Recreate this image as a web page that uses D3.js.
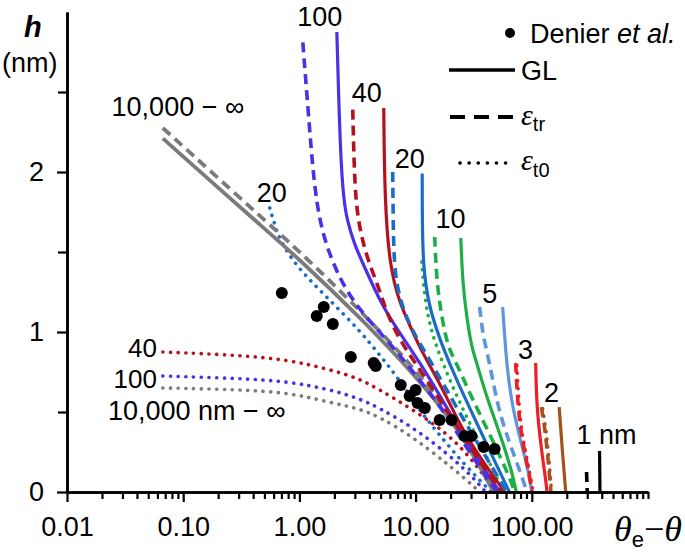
<!DOCTYPE html>
<html><head><meta charset="utf-8">
<script src="https://cdn.jsdelivr.net/npm/d3@7"></script>
<style>body{margin:0;background:#fff}svg{display:block}</style>
</head><body><svg id="chart" width="685" height="560"></svg>
<script>
// ---------- tick labels ----------
const xTickValues = [0.01, 0.1, 1, 10, 100];
const xTickLabels = ["0.01", "0.10", "1.00", "10.00", "100.00"];
const yTickValues = [0, 1, 2];
const yTickLabels = ["0", "1", "2"];
const yMinorValues = [0.5, 1.5, 2.5];

// ---------- Denier et al. data ----------
const denierX = [0.706, 1.62, 1.41, 1.94, 2.77, 4.36, 4.54, 7.45, 8.89, 10.0, 10.4, 12.0, 16.1, 20.4, 26.4, 30.3, 38.5, 47.9];
const denierH = [1.244, 1.156, 1.10, 1.05, 0.844, 0.806, 0.788, 0.669, 0.60, 0.638, 0.556, 0.525, 0.45, 0.45, 0.35, 0.35, 0.281, 0.269];

// ---------- model curves: [theta_e - theta, h] ----------
// 10,000 nm - infinity
const gray_GL  = [[0.0668,2.21],[0.457,1.67],[0.95,1.47],[3.51,1.075],[10.2,0.72],[23.9,0.39],[47,0]];
const gray_tr  = [[0.0668,2.275],[0.457,1.725],[0.95,1.52],[3.51,1.12],[10.2,0.76],[23.9,0.41],[48.9,0]];
const gray_t0  = [[0.0668,0.65],[0.308,0.64],[0.826,0.62],[1.82,0.56],[3.12,0.525],[4.91,0.47],[9.44,0.345],[18.5,0.18],[27.5,0.075],[35.6,0]];
// 100 nm
const n100_GL  = [[2.10,2.875],[2.22,2.245],[2.36,1.87],[2.56,1.70],[2.99,1.544],[3.51,1.43],[5.21,1.156],[7.30,0.994],[10.8,0.8125],[16.1,0.606],[23.9,0.388],[35.6,0.1875],[52.9,0]];
const n100_tr  = [[1.07,2.81],[1.23,2.245],[1.36,1.87],[1.59,1.595],[2.22,1.325],[3.30,1.1375],[4.91,1.0],[7.30,0.856],[10.8,0.70],[16.1,0.544],[23.9,0.344],[35.6,0.156],[49.8,0]];
const n100_t0  = [[0.0668,0.725],[0.308,0.71],[0.826,0.69],[1.82,0.64],[3.12,0.59],[4.91,0.525],[9.44,0.405],[18.5,0.245],[31,0.095],[40,0]];
// 40 nm
const n40_GL   = [[5.32,2.40],[5.42,1.825],[5.98,1.406],[7.30,1.18],[8.89,1.044],[10.8,0.906],[13.2,0.794],[18.5,0.594],[25.4,0.3875],[35.6,0.219],[58.4,0]];
const n40_tr   = [[2.88,2.39],[2.99,1.87],[3.30,1.64],[3.87,1.45],[4.91,1.2625],[5.64,1.119],[7.30,0.95],[10.2,0.794],[15.2,0.606],[23.9,0.3875],[35.6,0.1875],[55,0]];
const n40_t0   = [[0.0668,0.875],[0.308,0.855],[0.826,0.825],[1.82,0.765],[3.12,0.715],[4.91,0.64],[9.44,0.515],[18.5,0.37],[29.2,0.22],[43.4,0.055],[47,0]];
// 20 nm
const n20_GL   = [[11.4,1.99],[11.4,1.825],[11.5,1.406],[13.2,1.1375],[17.1,0.906],[22.5,0.70],[33.6,0.431],[46,0.219],[64.2,0]];
const n20_tr   = [[6.35,2.0],[6.40,1.80],[6.48,1.406],[7.30,1.20],[8.89,1.044],[10.8,0.931],[14.0,0.794],[18.5,0.6375],[29.2,0.3875],[43.5,0.181],[60.7,0]];
const n20_t0   = [[0.556,1.775],[0.614,1.67],[0.678,1.575],[0.95,1.405],[1.82,1.2],[3.30,1.01],[4.91,0.856],[7.30,0.70],[10.8,0.51],[16.1,0.356],[26.4,0.169],[45,0]];
// 10 nm
const n10_GL   = [[24.5,1.5875],[25.4,1.306],[27.5,1.094],[30.3,0.906],[33.6,0.806],[40.8,0.594],[52.9,0.369],[67,0.1375],[73.5,0]];
const n10_tr   = [[14.6,1.594],[15.2,1.306],[16.8,1.094],[18.9,0.906],[22.5,0.806],[31.0,0.575],[46,0.325],[64.2,0.094],[71.5,0]];
const n10_t0   = [[11.3,1.4375],[12.0,1.20],[13.7,0.994],[17.1,0.806],[23.9,0.556],[35.6,0.306],[49.8,0.094],[57,0]];
// 5 nm
const n5_GL    = [[56.1,1.156],[58.4,0.98],[60.7,0.806],[67,0.556],[78.5,0.344],[92,0.156],[100,0]];
const n5_tr    = [[35.6,1.156],[37.8,0.981],[43.5,0.806],[50.8,0.531],[64.2,0.306],[78.5,0.1375],[91,0]];
// 3 nm
const n3_GL    = [[108,0.806],[110,0.531],[121,0.2625],[133,0.056],[135,0]];
const n3_tr    = [[72.6,0.806],[75.9,0.531],[82.5,0.325],[94.7,0.119],[100.5,0]];
const n3_t0    = [[74.5,0.79],[77.5,0.52],[84,0.32],[96.5,0.115],[102.5,0]];
// 2 nm
const n2_GL    = [[172,0.531],[182,0.281],[196,0]];
const n2_tr    = [[121,0.531],[133,0.344],[146,0]];
const n2_t0    = [[124,0.52],[136,0.34],[148,0]];
// 1 nm
const n1_GL    = [[383,0.256],[386,0]];
const n1_tr    = [[296,0.125],[300,0]];

// ---------- series styling ----------
const C = {gray:"#7b7b7b", violet:"#4b30e6", darkred:"#b3121c", blue:"#1a6cc4",
           green:"#1fae45", lblue:"#5d96de", red:"#ee1d26", brown:"#a3521d", black:"#000"};
const series = [
  {d:gray_t0,c:C.gray,s:"dot"},{d:n100_t0,c:C.violet,s:"dot"},{d:n40_t0,c:C.darkred,s:"dot"},
  {d:n20_t0,c:C.blue,s:"dot"},{d:n10_t0,c:C.green,s:"dot"},
  {d:gray_tr,c:C.gray,s:"dash",w:3.8},{d:gray_GL,c:C.gray,s:"solid",w:3.8},
  {d:n100_tr,c:C.violet,s:"dash"},{d:n100_GL,c:C.violet,s:"solid"},
  {d:n40_tr,c:C.darkred,s:"dash"},{d:n40_GL,c:C.darkred,s:"solid"},
  {d:n20_tr,c:C.blue,s:"dash"},{d:n20_GL,c:C.blue,s:"solid"},
  {d:n10_tr,c:C.green,s:"dash"},{d:n10_GL,c:C.green,s:"solid"},
  {d:n5_tr,c:C.lblue,s:"dash"},{d:n5_GL,c:C.lblue,s:"solid"},
  {d:n3_t0,c:C.red,s:"dot"},{d:n3_tr,c:C.red,s:"dash"},{d:n3_GL,c:C.red,s:"solid"},
  {d:n2_t0,c:C.brown,s:"dot"},{d:n2_tr,c:C.brown,s:"dash"},{d:n2_GL,c:C.brown,s:"solid"},
  {d:n1_tr,c:C.black,s:"dash"},{d:n1_GL,c:C.black,s:"solid"}
];

// ---------- annotations ----------
const annText = ["100","40","20","10","5","3","2","1 nm","20","10,000 \u2212 \u221E"];
const annX    = [1.50, 3.80, 8.89, 20.0, 43.4, 88.5, 148, 440, 0.579, 0.090];
const annH    = [2.975, 2.50, 2.0875, 1.7125, 1.244, 0.894, 0.625, 0.3625, 1.875, 2.4125];
const leftText = ["40","100"];
const leftX    = [0.0594, 0.0594];
const leftH    = [0.90, 0.71];
const bottomLabel = "10,000 nm \u2212 \u221E";
const bottomX = 0.0225, bottomH = 0.5125;

// ---------- drawing ----------
const FONT = "'Liberation Sans', Arial, Helvetica, sans-serif";
const SERIF = "'Liberation Serif', 'Times New Roman', serif";
const svg = d3.select("#chart");
const x = d3.scaleLog().domain([0.01, 1000]).range([67, 648]);
const y = d3.scaleLinear().domain([0, 3]).range([492, 12]);

const line = d3.line().x(d => x(d[0])).y(d => y(d[1])).curve(d3.curveBasis);
const gLines = svg.append("g");
series.forEach(s => {
  const p = gLines.append("path").attr("d", line(s.d)).attr("fill", "none")
    .attr("stroke", s.c);
  if (s.s === "solid") p.attr("stroke-width", s.w || 3.2);
  if (s.s === "dash") p.attr("stroke-width", s.w || 3.6).attr("stroke-dasharray", "10 6");
  if (s.s === "dot") p.attr("stroke-width", 3.6).attr("stroke-dasharray", "0.1 7.6").attr("stroke-linecap", "round");
});

svg.append("g").selectAll("circle").data(denierX).join("circle")
  .attr("cx", d => x(d)).attr("cy", (d, i) => y(denierH[i])).attr("r", 6).attr("fill", "#000");

// axes
function styleAxis(g) {
  g.selectAll("path.domain").attr("stroke", "#000").attr("stroke-width", 2.6);
  g.selectAll(".tick line").attr("stroke", "#000").attr("stroke-width", 2.2);
  g.selectAll("text").attr("font-family", FONT).attr("font-size", 27).attr("fill", "#000");
}
const minorX = x.ticks().filter(v => xTickValues.indexOf(v) < 0);
svg.append("g").attr("transform", "translate(0,492)")
  .call(d3.axisBottom(x).tickValues(minorX).tickSize(7).tickSizeOuter(0).tickFormat(""))
  .call(styleAxis);
svg.append("g").attr("transform", "translate(0,492)")
  .call(d3.axisBottom(x).tickValues(xTickValues).tickSize(10).tickSizeOuter(0).tickPadding(15)
    .tickFormat((d, i) => xTickLabels[i]))
  .call(styleAxis);
svg.append("g").attr("transform", "translate(67,0)")
  .call(d3.axisLeft(y).tickValues(yMinorValues).tickSize(9).tickSizeOuter(0).tickFormat(""))
  .call(styleAxis);
svg.append("g").attr("transform", "translate(67,0)")
  .call(d3.axisLeft(y).tickValues(yTickValues).tickSize(10).tickSizeOuter(0).tickPadding(13)
    .tickFormat((d, i) => yTickLabels[i]))
  .call(styleAxis);

// annotations
const gAnn = svg.append("g").attr("font-family", FONT).attr("font-size", 27).attr("fill", "#000");
annText.forEach((t, i) => gAnn.append("text").attr("x", x(annX[i])).attr("y", y(annH[i]))
  .attr("text-anchor", "middle").attr("dy", "0.36em").text(t));
leftText.forEach((t, i) => gAnn.append("text").attr("x", x(leftX[i])).attr("y", y(leftH[i]))
  .attr("text-anchor", "end").attr("dy", "0.36em").attr("font-size", 26).text(t));
gAnn.append("text").attr("x", x(bottomX)).attr("y", y(bottomH)).attr("dy", "0.36em").text(bottomLabel);

// axis titles
svg.append("text").attr("x", 24).attr("y", 37).attr("font-family", FONT).attr("font-size", 29)
  .attr("font-style", "italic").attr("font-weight", "bold").text("h");
svg.append("text").attr("x", 2).attr("y", 72).attr("font-family", FONT).attr("font-size", 27).text("(nm)");
const xt = svg.append("text").attr("x", 614).attr("y", 541).attr("font-family", SERIF).attr("font-size", 36);
xt.append("tspan").attr("font-style", "italic").text("\u03B8");
xt.append("tspan").attr("font-family", FONT).attr("font-size", 22).attr("dy", 6).text("e");
xt.append("tspan").attr("dy", -6).text("\u2212");
xt.append("tspan").attr("font-style", "italic").text("\u03B8");

// legend
const lg = svg.append("g").attr("font-family", FONT).attr("font-size", 27);
lg.append("circle").attr("cx", 510).attr("cy", 33).attr("r", 5).attr("fill", "#000");
const dt = lg.append("text").attr("x", 530).attr("y", 43);
dt.append("tspan").text("Denier ");
dt.append("tspan").attr("font-style", "italic").text("et al.");
lg.append("line").attr("x1", 449).attr("x2", 515).attr("y1", 70).attr("y2", 70).attr("stroke", "#000").attr("stroke-width", 3.5);
lg.append("text").attr("x", 521).attr("y", 80).text("GL");
lg.append("line").attr("x1", 450).attr("x2", 513).attr("y1", 117).attr("y2", 117).attr("stroke", "#000").attr("stroke-width", 4).attr("stroke-dasharray", "15 9");
const e1 = lg.append("text").attr("x", 521).attr("y", 125);
e1.append("tspan").attr("font-family", SERIF).attr("font-style", "italic").attr("font-size", 30).text("\u03B5");
e1.append("tspan").attr("font-size", 20).attr("dy", 6).text("tr");
lg.append("line").attr("x1", 460).attr("x2", 512).attr("y1", 163).attr("y2", 163).attr("stroke", "#000").attr("stroke-width", 3.6).attr("stroke-dasharray", "0.1 9").attr("stroke-linecap", "round");
const e2 = lg.append("text").attr("x", 521).attr("y", 170);
e2.append("tspan").attr("font-family", SERIF).attr("font-style", "italic").attr("font-size", 30).text("\u03B5");
e2.append("tspan").attr("font-size", 20).attr("dy", 7).text("t0");
</script></body></html>
